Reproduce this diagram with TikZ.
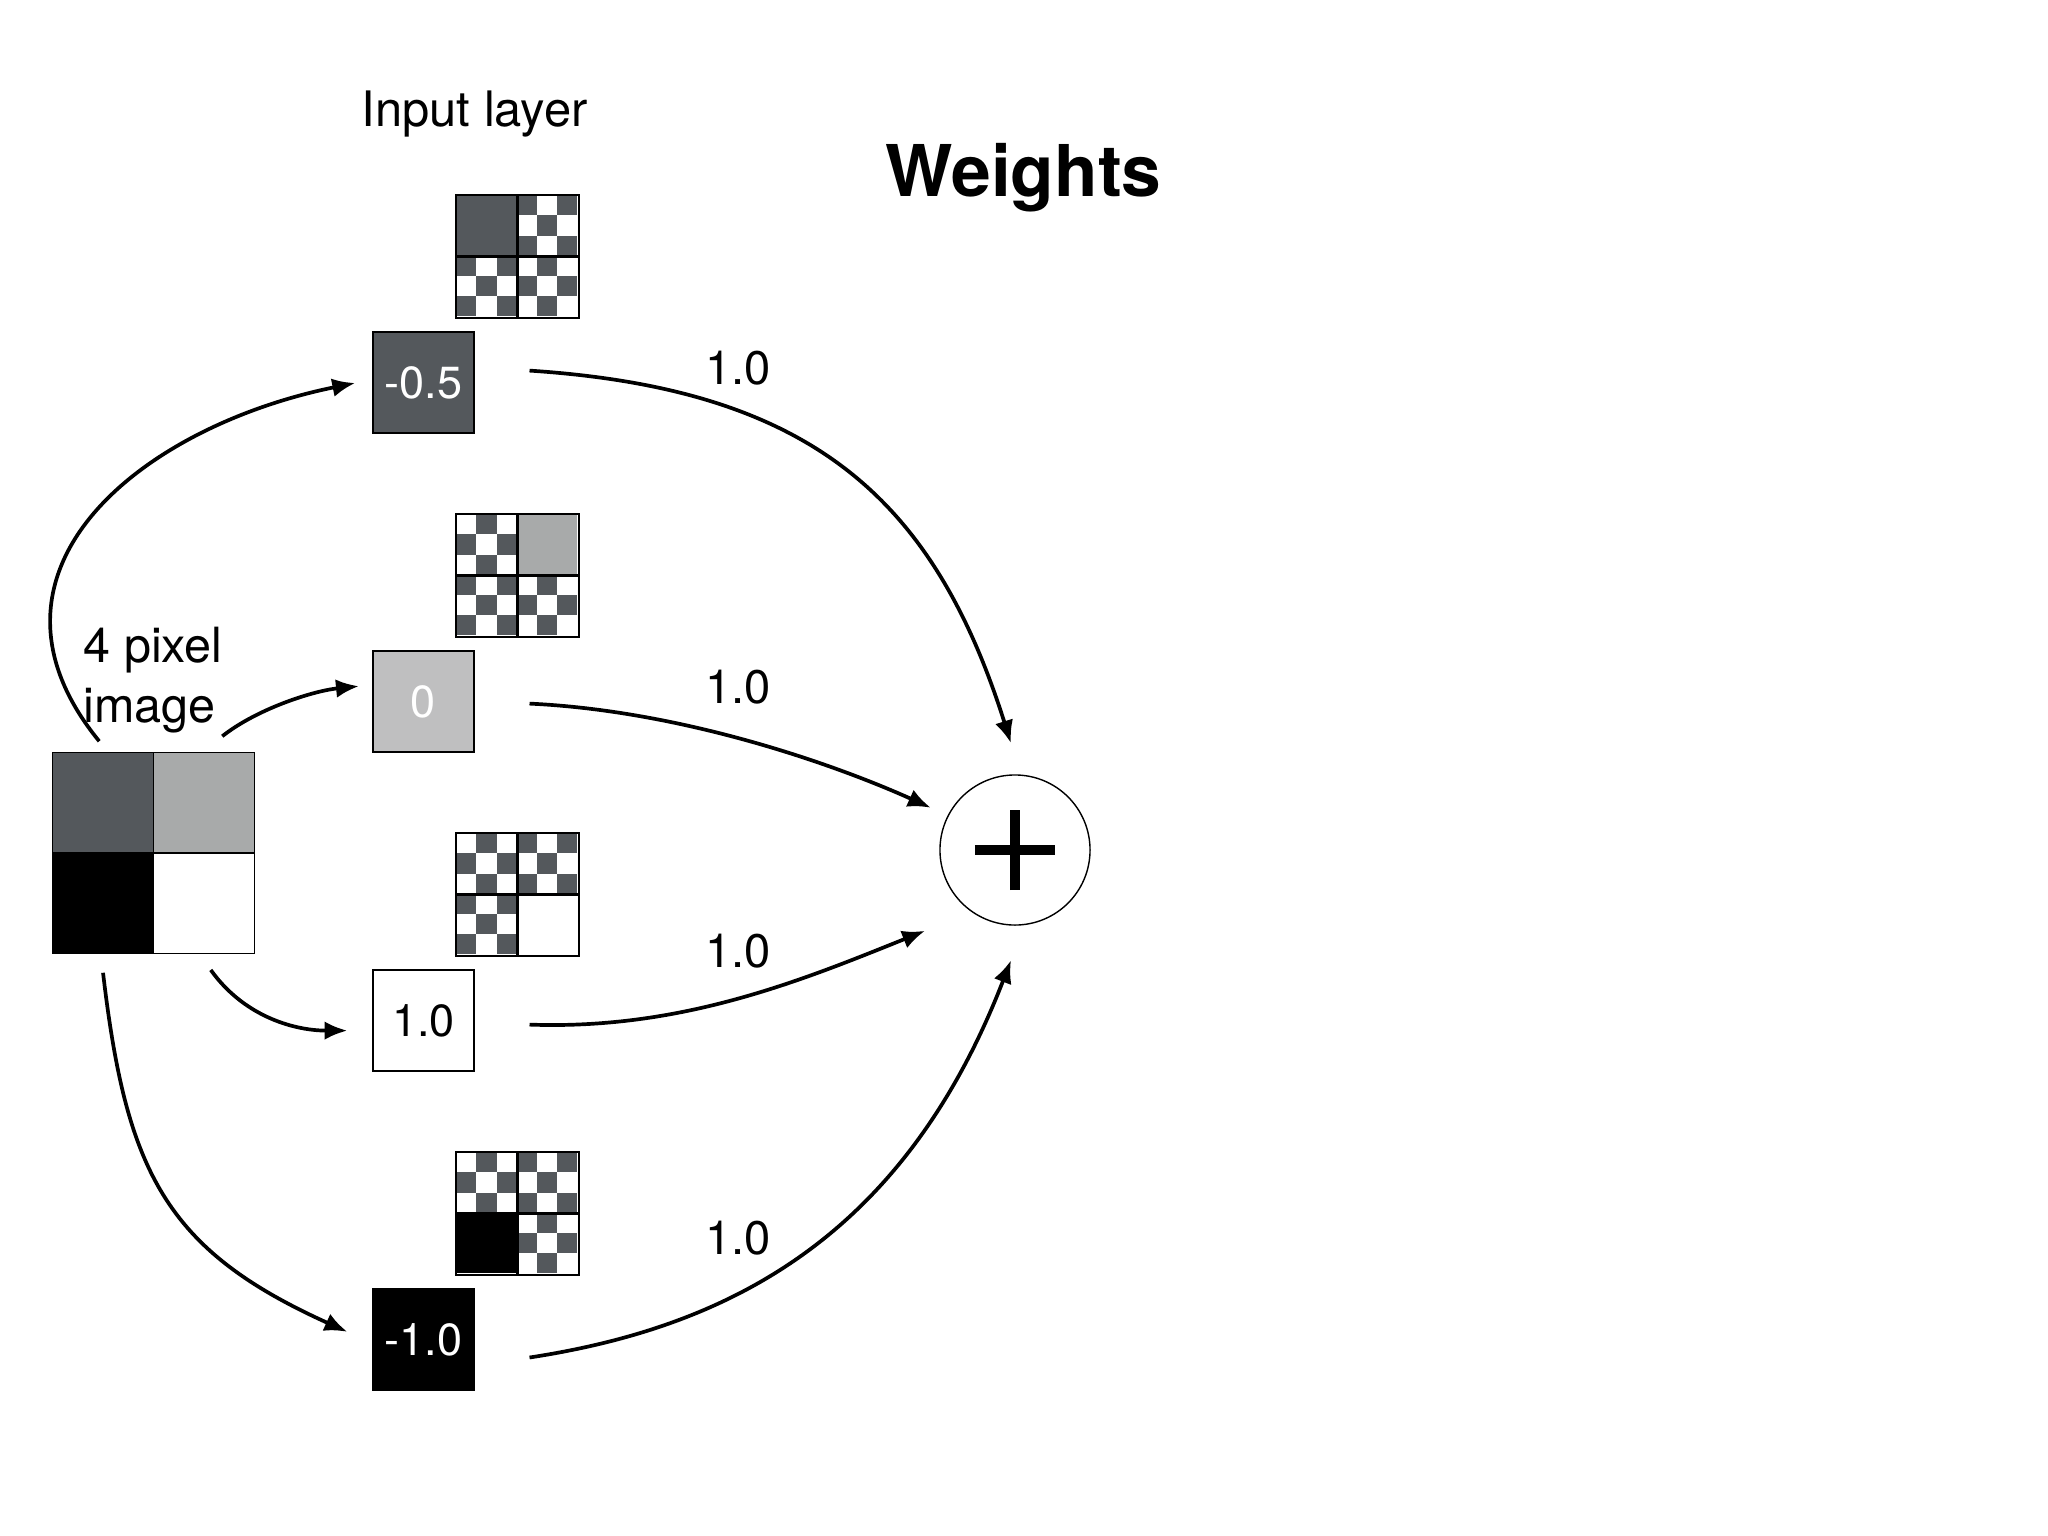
\documentclass[tikz,border=0pt]{standalone}
\usepackage{fontspec}
\setmainfont{TeX Gyre Heros}
\usetikzlibrary{arrows.meta,calc}
\definecolor{darkpix}{RGB}{84,88,92}
\definecolor{lightpix}{RGB}{168,170,170}
\definecolor{zeropix}{RGB}{191,191,192}
\begin{document}
\begin{tikzpicture}[x=0.01cm, y=-0.01cm,
    >={Latex[length=6.5pt,width=5.3pt]},
    unit/.style={draw, line width=0.45pt, inner sep=0pt, minimum size=1.01cm,
      font=\fontsize{12.8}{15}\selectfont},
    weight/.style={anchor=base, font=\fontsize{13.4}{16}\selectfont},
    link/.style={->, line width=1.05pt}]
  \useasboundingbox (0,0) rectangle (2048,1536);

  % titles
  \node[anchor=base, font=\fontsize{13.9}{16}\selectfont] (title) at (474.5,126.5) {Input layer};
  \node[anchor=base, font=\fontsize{20.3}{24}\selectfont\bfseries] (weights) at (1023.6,196) {Weights};

  % the 4 pixel image
  \node[inner sep=0pt, minimum size=2cm] (img) at (153.5,853) {};
  \fill[darkpix] (img.north west) rectangle (img.center);
  \fill[lightpix] (img.north) rectangle (img.east);
  \fill[black] (img.west) rectangle (img.south);
  \draw[line width=0.4pt] (img.north west) rectangle (img.south east);
  \draw[line width=0.4pt] (img.north) -- (img.south) (img.west) -- (img.east);
  \node[anchor=base west, align=left, inner sep=0pt, font=\fontsize{13.8}{16.8}\selectfont] (caption) at (83,722) {4 pixel\\image};

  % input units
  \node[unit, fill=darkpix, text=white] (u1) at (423.5,382.5) {-0.5};
  \node[unit, fill=zeropix, text=white] (u2) at (423.5,701.5) {0};
  \node[unit, fill=white] (u3) at (423.5,1020.5) {1.0};
  \node[unit, fill=black, text=white] (u4) at (423.5,1339.5) {-1.0};

  % filters above the units
  \foreach \k/\qx/\qy/\qcol in {1/0/0/darkpix, 2/1/0/lightpix, 3/1/1/white, 4/0/1/black} {
    \node[inner sep=0pt, minimum size=1.21cm] (f\k) at (517.5,{256.5+319*(\k-1)}) {};
    \foreach \j in {0,...,5}
      \foreach \i in {0,2,4}
        \fill[darkpix] (f\k.north west) ++({(\i+1-mod(\j,2))*121/6},{\j*121/6}) rectangle ++({121/6},{121/6});
    \fill[\qcol] (f\k.north west) ++({\qx*60.5},{\qy*60.5}) rectangle ++(60.5,60.5);
    \draw[line width=0.6pt] (f\k.north west) rectangle (f\k.south east);
    \draw[line width=0.6pt] (f\k.north) -- (f\k.south) (f\k.west) -- (f\k.east);
  }

  % sum
  \node[draw, circle, line width=0.4pt, minimum size=1.5cm, inner sep=0pt] (sum) at (1015,850) {};
  \draw[line width=2.65pt] ([xshift=-0.4cm]sum.center) -- ([xshift=0.4cm]sum.center);
  \draw[line width=2.65pt] ([yshift=-0.4cm]sum.center) -- ([yshift=0.4cm]sum.center);

  % image to units
  \draw[link] ($(img.north west)+(46.5,-11)$) .. controls +(-138.6,-169.4) and +(-215.6,44) .. ($(u1.west)+(-17,0.5)$);
  \draw[link] ($(img.north east)+(-32,-16)$) .. controls +(35.5,-28) and +(-44.7,4.5) .. ($(u2.west)+(-13.3,-15.3)$);
  \draw[link] ($(img.south east)+(-43.5,16.2)$) .. controls +(34.8,48.6) and +(-50,0) .. ($(u3.west)+(-24.8,10.1)$);
  \draw[link] ($(img.south west)+(50.3,19)$) .. controls +(23.3,198.6) and +(-182,-82) .. ($(u4.west)+(-24.8,-7.7)$);

  % units to sum
  \draw[link] ($(u1.east)+(54.7,-11.9)$) .. controls +(280,18.4) and +(-78,-247) .. ($(sum.north)+(-4,-31)$);
  \draw[link] ($(u2.east)+(54.7,2.1)$) .. controls +(150,7) and +(-100,-45) .. ($(sum.west)+(-8.5,-42.3)$);
  \draw[link] ($(u3.east)+(54.7,4.1)$) .. controls +(151.3,5.4) and +(-124.8,50.2) .. ($(sum.west)+(-14.2,80.8)$);
  \draw[link] ($(u4.east)+(54.7,18)$) .. controls +(196,-30) and +(-108.3,280) .. ($(sum.south)+(-4,34.5)$);

  \node[weight] (w1) at (738.4,384) {1.0};
  \node[weight] (w2) at (738.4,703.6) {1.0};
  \node[weight] (w3) at (738.4,967) {1.0};
  \node[weight] (w4) at (738.4,1254) {1.0};
\end{tikzpicture}
\end{document}
